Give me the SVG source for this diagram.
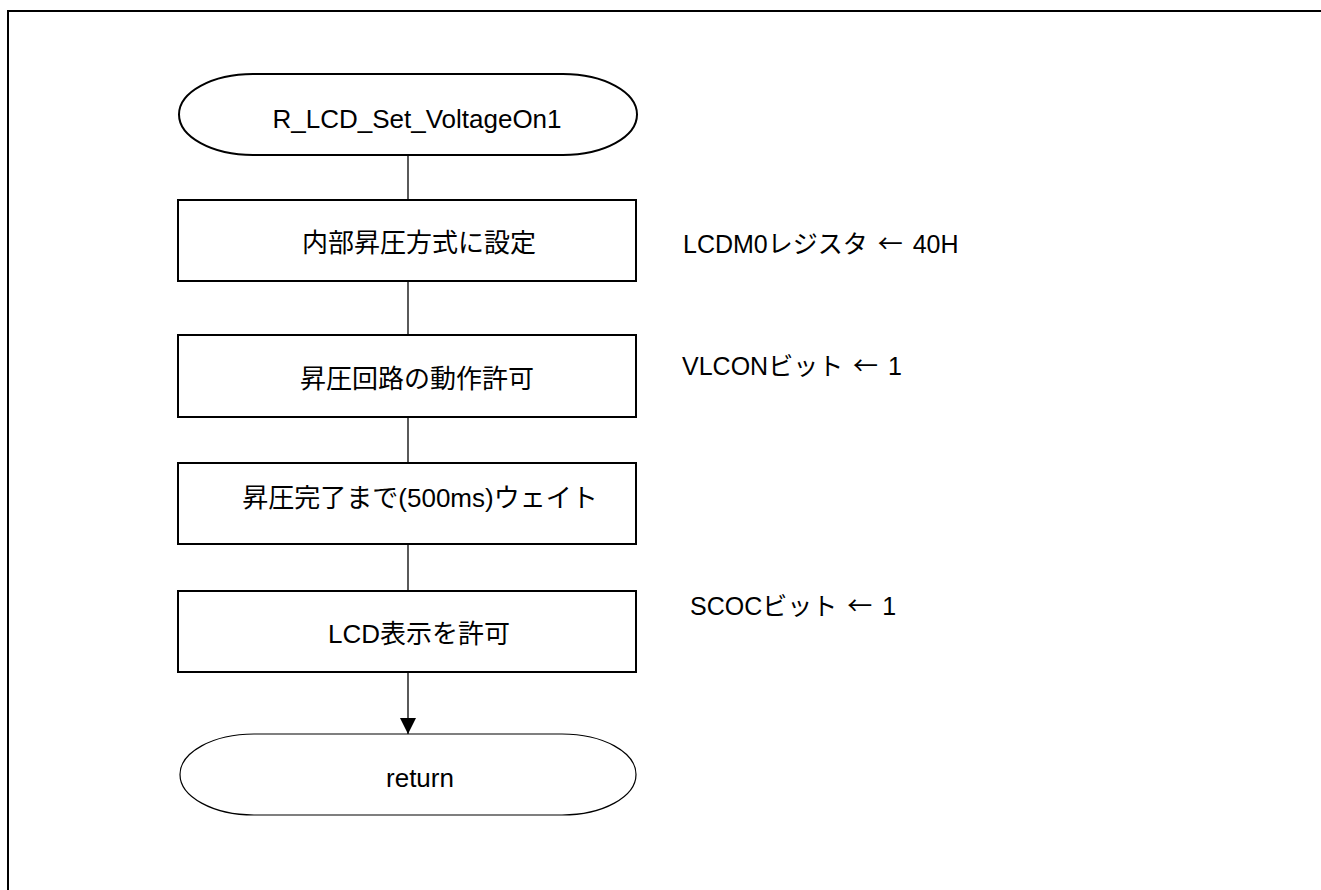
<svg xmlns="http://www.w3.org/2000/svg" width="1321" height="890" viewBox="0 0 1321 890">
<defs>
<style>
.t{font-family:"Liberation Sans","Noto Sans CJK JP",sans-serif;font-size:26px;fill:#000}
.l{font-size:25px}
.a{font-family:"Noto Sans CJK JP",sans-serif}
.c{text-anchor:middle}
.box{fill:#fff;stroke:#000;stroke-width:2}
.term{fill:#fff;stroke:#000;stroke-width:2}
.term2{fill:#fff;stroke:#000;stroke-width:1.2}
.conn{stroke:#000;stroke-width:1.3;fill:none}
</style>
<marker id="arr" markerUnits="userSpaceOnUse" markerWidth="16" markerHeight="16" refX="16" refY="8" orient="auto" viewBox="0 0 16 16">
<path d="M0,0 L16,8 L0,16 Z" fill="#000"/>
</marker>
</defs>
<rect width="1321" height="890" fill="#fff"/>
<path d="M8,890 V11 H1321" fill="none" stroke="#000" stroke-width="2"/>
<g id="connectors">
<line class="conn" x1="408" y1="155" x2="408" y2="200"/>
<line class="conn" x1="408" y1="281" x2="408" y2="335"/>
<line class="conn" x1="408" y1="417" x2="408" y2="463"/>
<line class="conn" x1="408" y1="544" x2="408" y2="591"/>
<line class="conn" x1="408" y1="672" x2="408" y2="734" marker-end="url(#arr)"/>
</g>
<g id="start">
<path class="term" d="M253,74 H563 A74,40.5 0 0 1 563,155 H253 A74,40.5 0 0 1 253,74 Z"/>
<text class="t c" x="417" y="128">R_LCD_Set_VoltageOn1</text>
</g>
<g id="step1">
<rect class="box" x="178" y="200" width="458" height="81"/>
<text class="t c" x="419" y="252">内部昇圧方式に設定</text>
<text class="t l" x="683" y="253">LCDM0レジスタ <tspan class="a" dx="3">←</tspan><tspan dx="3"> 40H</tspan></text>
</g>
<g id="step2">
<rect class="box" x="178" y="335" width="458" height="82"/>
<text class="t c" x="417" y="388">昇圧回路の動作許可</text>
<text class="t l" x="682" y="375">VLCONビット <tspan class="a" dx="3">←</tspan><tspan dx="3"> 1</tspan></text>
</g>
<g id="step3">
<rect class="box" x="178" y="463" width="458" height="81"/>
<text class="t c" x="420" y="507">昇圧完了まで(500ms)ウェイト</text>
</g>
<g id="step4">
<rect class="box" x="178" y="591" width="458" height="81"/>
<text class="t c" x="419" y="643">LCD表示を許可</text>
<text class="t l" x="690" y="615">SCOCビット <tspan class="a" dx="3">←</tspan><tspan dx="3"> 1</tspan></text>
</g>
<g id="end">
<path class="term2" d="M254,734 H562 A74,40.5 0 0 1 562,815 H254 A74,40.5 0 0 1 254,734 Z"/>
<text class="t c" x="420" y="787">return</text>
</g>
</svg>
